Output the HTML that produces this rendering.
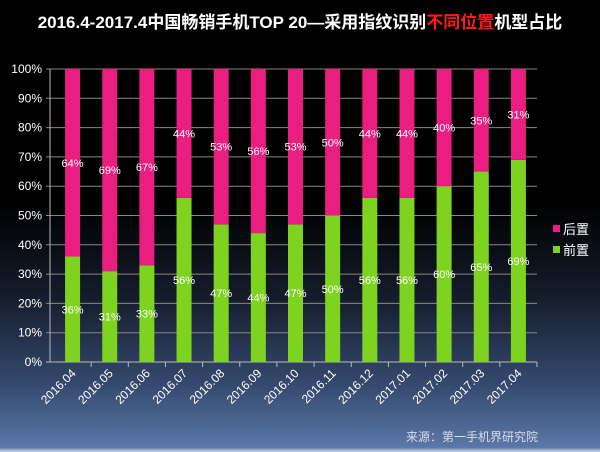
<!DOCTYPE html>
<html><head><meta charset="utf-8"><style>
body{margin:0;width:600px;height:452px;overflow:hidden;}
#bg{position:absolute;left:0;top:0;width:600px;height:452px;background:linear-gradient(to bottom,#000 0%,#000 45%,#141b2a 65%,#35496e 85%,#5a78a8 99%,#c8d4e8 100%);}
svg{position:absolute;left:0;top:0;}
text{font-family:"Liberation Sans","Noto Sans CJK SC",sans-serif;}
</style></head><body>
<div id="bg"></div>
<svg id="c" width="600" height="452">
<text x="300" y="28" text-anchor="middle" font-size="17" font-weight="bold" fill="#fff">2016.4-2017.4中国畅销手机TOP 20—采用指纹识别<tspan fill="#ff1a1a">不同位置</tspan>机型占比</text>
<text x="538" y="441" text-anchor="end" font-size="12" fill="#d8dde8">来源：第一手机界研究院</text>
</svg>
<script>
const categories=["2016.04","2016.05","2016.06","2016.07","2016.08","2016.09","2016.10","2016.11","2016.12","2017.01","2017.02","2017.03","2017.04"];
const front=[36,31,33,56,47,44,47,50,56,56,60,65,69];
const back=[64,69,67,44,53,56,53,50,44,44,40,35,31];
const yTicks=[0,10,20,30,40,50,60,70,80,90,100];
const svg=document.getElementById('c');
const NS='http://www.w3.org/2000/svg';
const ax0=50,bx0=54,x1=537,y0=362,y1=69;
const bw=(x1-bx0)/categories.length;
const y=v=>y0-(y0-y1)*v/100;
const xc=i=>bx0+bw*(i+0.5);
function mk(t,a){const e=document.createElementNS(NS,t);for(const k in a)e.setAttribute(k,a[k]);svg.appendChild(e);return e;}
yTicks.forEach(t=>{
  const l=mk('line',{x1:ax0-4,x2:x1,y1:y(t),y2:y(t),stroke:t===0?'#bbb':'#888','stroke-width':1});
  
  
  const tx=mk('text',{x:ax0-8,y:y(t)+4,'text-anchor':'end','font-size':12,fill:'#fff'});
  tx.textContent=t+'%';
  
  
});
const ax=mk('line',{x1:ax0,x2:ax0,y1:y1,y2:y0,stroke:'#bbb'});


categories.forEach((c,i)=>{
  const tk=mk('line',{x1:bx0+bw*(i+1),x2:bx0+bw*(i+1),y1:y0,y2:y0+5,stroke:'#bbb'});
  
  
  const cx=xc(i)-7.5,w=15;
  const g=mk('rect',{x:cx,y:y(front[i]),width:w,height:y0-y(front[i]),fill:'#7ed321'});
  
  
  const p=mk('rect',{x:cx,y:y(front[i]+back[i]),width:w,height:y(front[i])-y(front[i]+back[i]),fill:'#ea1e80'});
  
  
  const lf=mk('text',{x:xc(i),y:y(front[i]/2)+4,'text-anchor':'middle','font-size':11,fill:'#fff'});
  lf.textContent=front[i]+'%';
  
  
  const lb=mk('text',{x:xc(i),y:y(front[i]+back[i]/2)+4,'text-anchor':'middle','font-size':11,fill:'#fff'});
  lb.textContent=back[i]+'%';
  
  
  const xl=mk('text',{x:xc(i)+4,y:y0+12,'text-anchor':'end','font-size':12,fill:'#fff',transform:`rotate(-45 ${xc(i)+4} ${y0+12})`});
  xl.textContent=c;
  
  
});
[["后置",'#ea1e80',229],["前置",'#7ed321',250]].forEach(([n,col,yy])=>{
  const r=mk('rect',{x:553,y:yy-4,width:7,height:7,fill:col});
  
  
  const t=mk('text',{x:563,y:yy+5,'font-size':13,fill:'#fff'});
  t.textContent=n;
  
  
});
</script>
</body></html>
